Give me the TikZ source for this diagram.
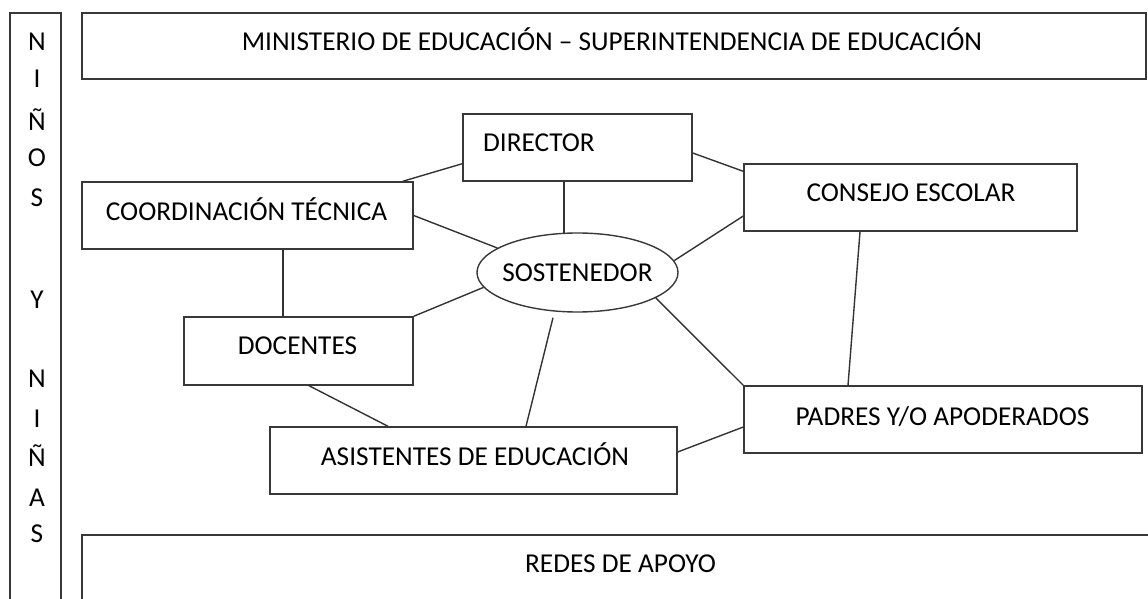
\documentclass[tikz,border=0pt]{standalone}
\usepackage{fontspec}
\setmainfont{Carlito}
\usetikzlibrary{shapes.geometric}
\tikzset{
  box/.style={draw=black!78, line width=1.4pt, rectangle, inner sep=0pt},
  oval/.style={draw=black!78, line width=1.4pt, ellipse, inner sep=0pt, minimum width=201pt, minimum height=79pt},
  txt/.style={inner sep=0pt, anchor=base, font=\fontsize{27.3}{32}\selectfont},
  link/.style={draw=black!80, line width=1.4pt},
}
\begin{document}
\begin{tikzpicture}[x=1pt,y=1pt]
\useasboundingbox (0,0) rectangle (1148,598);
% boxes
\node[box, minimum width=51pt, minimum height=607pt] (col) at (35.5,281.5) {};
\node[box, minimum width=1064pt, minimum height=66pt] (mini) at (614,552) {};
\node[box, minimum width=229pt, minimum height=67pt] (dir) at (577.5,450.5) {};
\node[box, minimum width=333pt, minimum height=67pt] (cons) at (910.5,400.5) {};
\node[box, minimum width=331pt, minimum height=67pt] (coord) at (247.5,382.5) {};
\node[oval] (sost) at (577.5,325.5) {};
\node[box, minimum width=229pt, minimum height=68pt] (doc) at (298.5,247) {};
\node[box, minimum width=398pt, minimum height=67pt] (pad) at (943,178.5) {};
\node[box, minimum width=407pt, minimum height=67pt] (asis) at (473.5,137.5) {};
\node[box, minimum width=1078pt, minimum height=85pt] (redes) at (621,20.5) {};
% texts
\node[txt] (minit) at (612,547) {MINISTERIO DE EDUCACIÓN – SUPERINTENDENCIA DE EDUCACIÓN};
\node[txt] (dirt) at (539,446) {DIRECTOR};
\node[txt] (const) at (911,396) {CONSEJO ESCOLAR};
\node[txt] (coordt) at (246.5,377) {COORDINACIÓN TÉCNICA};
\node[txt] (sostt) at (577.5,317) {SOSTENEDOR};
\node[txt] (doct) at (297.5,244) {DOCENTES};
\node[txt] (padt) at (942.5,173) {PADRES Y/O APODERADOS};
\node[txt] (asist) at (475,133) {ASISTENTES DE EDUCACIÓN};
\node[txt] (redest) at (620.5,26) {REDES DE APOYO};
% column letters
\node[txt] (l1) at (37,547) {N};
\node[txt] (l2) at (37,510) {I};
\node[txt] (l3) at (37,467) {Ñ};
\node[txt] (l4) at (37,431) {O};
\node[txt] (l5) at (37,391) {S};
\node[txt] (l6) at (37,290) {Y};
\node[txt] (l7) at (37,211) {N};
\node[txt] (l8) at (37,171) {I};
\node[txt] (l9) at (37,132) {Ñ};
\node[txt] (l10) at (37,92) {A};
\node[txt] (l11) at (37,56) {S};
% connectors
\draw[link] ([xshift=-11pt]coord.north east) -- ([yshift=18pt]dir.south west);
\draw[link] ([yshift=-5.5pt]dir.east) -- ([yshift=-8pt]cons.north west);
\draw[link] ([xshift=-13.5pt]dir.south) -- ([xshift=-13.5pt,yshift=-0.5pt]sost.north);
\draw[link] (coord.east) -- (sost.163.5);
\draw[link] ([yshift=-18.5pt]cons.west) -- (sost.7.7);
\draw[link] ([xshift=35.5pt]coord.south) -- ([xshift=-15.5pt]doc.north);
\draw[link] (doc.north east) -- (sost.189);
\draw[link] ([xshift=10.5pt]doc.south) -- ([xshift=-85.5pt]asis.north);
\draw[link] ([xshift=-24.5pt,yshift=-5pt]sost.south) -- ([xshift=52.5pt]asis.north);
\draw[link] (sost.-18.4) -- (pad.north west);
\draw[link] ([xshift=-50.5pt]cons.south) -- ([xshift=-95pt]pad.north);
\draw[link] ([yshift=8.5pt]asis.east) -- ([yshift=-7.5pt]pad.west);
\end{tikzpicture}
\end{document}
